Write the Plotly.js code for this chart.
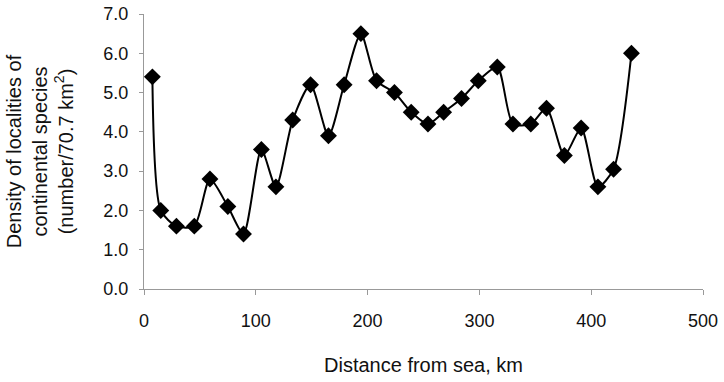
<!DOCTYPE html>
<html>
<head>
<meta charset="utf-8">
<script src="https://cdn.plot.ly/plotly-3.0.1.min.js"></script>
<style>html,body{margin:0;padding:0;background:#fff;}#chart{width:724px;height:382px;}</style>
</head>
<body>
<div id="chart"></div>
<script>
const distanceKm = [7.5, 15, 29, 45, 59, 75, 89, 105, 118, 133, 149, 165, 179, 194, 208, 224, 239, 254, 268, 284, 299, 316, 330, 346, 360, 376, 391, 406, 420, 436];
const density = [5.4, 2.0, 1.6, 1.6, 2.8, 2.1, 1.4, 3.55, 2.6, 4.3, 5.2, 3.9, 5.2, 6.5, 5.3, 5.0, 4.5, 4.2, 4.5, 4.85, 5.3, 5.65, 4.2, 4.2, 4.6, 3.4, 4.1, 2.6, 3.05, 6.0];
const xTicks = [0, 100, 200, 300, 400, 500];
const yTicks = [0, 1, 2, 3, 4, 5, 6, 7];

const font = "Liberation Sans, Arial, sans-serif";

const trace = {
  x: distanceKm,
  y: density,
  type: 'scatter',
  mode: 'lines+markers',
  line: {color: '#000', width: 2, shape: 'spline', smoothing: 0.7},
  marker: {symbol: 'diamond', size: 13, color: '#000'},
  cliponaxis: false,
  showlegend: false
};

const layout = {
  width: 724, height: 382,
  margin: {l: 144, r: 21, t: 14, b: 93},
  paper_bgcolor: '#fff', plot_bgcolor: '#fff',
  font: {family: font, color: '#111'},
  xaxis: {
    range: [0, 500], tickvals: xTicks, ticktext: xTicks.map(String),
    showgrid: false, zeroline: false, showline: true, linecolor: '#999', linewidth: 1,
    ticks: 'outside', ticklen: 5, tickcolor: '#999', ticklabelstandoff: 10,
    tickfont: {size: 18, family: font, color: '#111'},
    title: {text: 'Distance from sea, km', font: {size: 20, family: font, color: '#111'}, standoff: 28}
  },
  yaxis: {
    range: [0, 7], tickvals: yTicks, ticktext: yTicks.map(v => v.toFixed(1)),
    showgrid: false, zeroline: false, showline: true, linecolor: '#999', linewidth: 1,
    ticks: 'outside', ticklen: 4, tickcolor: '#999', ticklabelstandoff: 7,
    tickfont: {size: 18, family: font, color: '#111'},
    title: {text: 'Density of localities of<br>continental species<br>(number/70.7 km<sup>2</sup>)', font: {size: 20, family: font, color: '#111'}, standoff: 24}
  }
};

Plotly.newPlot('chart', [trace], layout, {displayModeBar: false, staticPlot: true});
</script>
</body>
</html>
